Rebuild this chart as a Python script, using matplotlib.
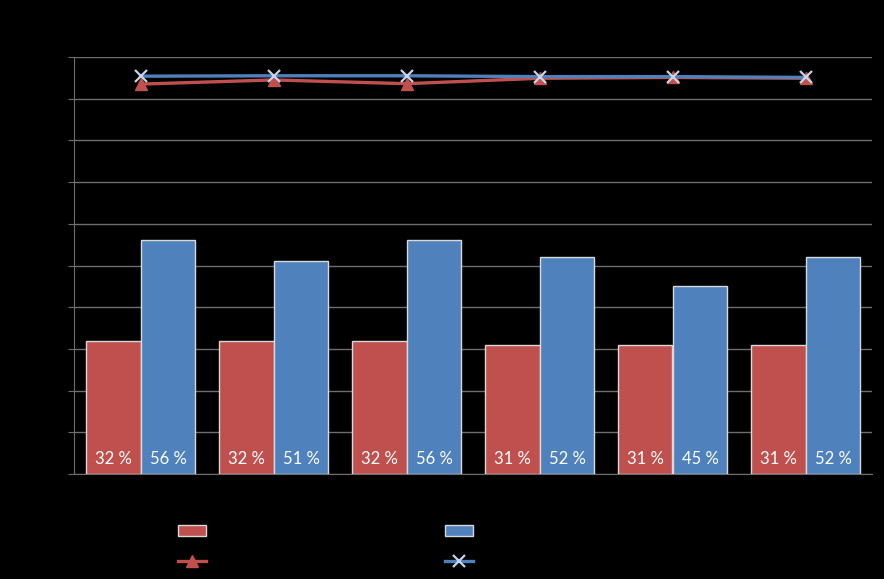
import numpy as np
import matplotlib
matplotlib.use("Agg")
import matplotlib.pyplot as plt

# data
categories = ["1", "2", "3", "4", "5", "6"]
bars_red = [32, 32, 32, 31, 31, 31]
bars_blue = [56, 51, 56, 52, 45, 52]
line_red = [93.5, 94.5, 93.6, 94.9, 95.1, 94.9]
line_blue = [95.4, 95.5, 95.5, 95.3, 95.3, 95.1]
labels = ["Serie 1", "Serie 2", "Linje 1", "Linje 2"]

RED = "#c0504d"
BLUE = "#4f81bd"

fig = plt.figure(figsize=(8.84, 5.79), dpi=100, facecolor="black")
ax = fig.add_axes([74 / 884, 1 - 474 / 579, 798 / 884, 417 / 579])
ax.set_facecolor("black")

x = np.arange(len(categories))
w = 0.413
b1 = ax.bar(x - w / 2, bars_red, w, color=RED, edgecolor="#d9d9d9", linewidth=1,
            zorder=3)
b2 = ax.bar(x + w / 2, bars_blue, w, color=BLUE, edgecolor="#d9d9d9", linewidth=1,
            zorder=3)

for bars, vals in ((b1, bars_red), (b2, bars_blue)):
    for r, v in zip(bars, vals):
        ax.text(r.get_x() + r.get_width() / 2, 3.6, f"{v} %", ha="center", va="center",
                color="white", fontsize=12, family="Lato", zorder=4)

l1, = ax.plot(x, line_red, color=RED, lw=2.4, marker="^", ms=9, zorder=5)
l2, = ax.plot(x, line_blue, color=BLUE, lw=2.4, marker="x", ms=9, mew=1.6,
              mec="#c6d4ea", zorder=6)

ax.set_xlim(-0.5, len(categories) - 0.5)
ax.set_ylim(0, 100)
ax.set_yticks(np.arange(0, 101, 10))
ax.yaxis.grid(True, color="#6e6e6e", lw=1, zorder=0)
ax.set_xticks(x)
ax.set_xticklabels(categories, color="black")
ax.tick_params(axis="y", colors="#6e6e6e", labelcolor="black", length=4)
ax.tick_params(axis="x", length=0, labelcolor="black")
for s in ("top", "right"):
    ax.spines[s].set_visible(False)
ax.spines["left"].set_color("#6e6e6e")
ax.spines["bottom"].set_color("#6e6e6e")

# two one-column legends, black text like the reference
for hs, ls, x0 in (([b1, l1], [labels[0], labels[2]], 178),
                   ([b2, l2], [labels[1], labels[3]], 445)):
    fig.legend(hs, ls, loc="upper left", bbox_to_anchor=(x0 / 884, 1 - 524 / 579),
               frameon=False, borderpad=0, borderaxespad=0, labelcolor="black",
               fontsize=11, handlelength=1.8, labelspacing=1.0)

fig.savefig("out.png", dpi=100, facecolor="black")
